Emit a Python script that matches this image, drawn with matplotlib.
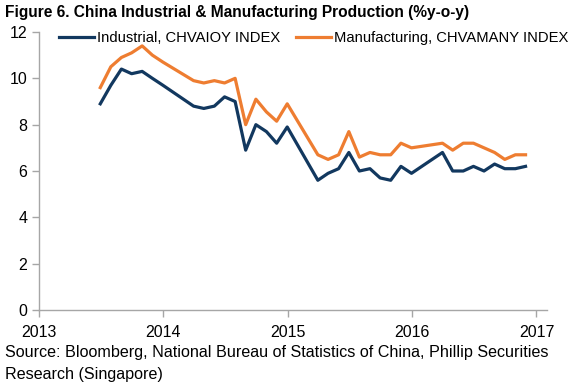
import matplotlib.pyplot as plt
import matplotlib.dates as mdates
import pandas as pd

# month-end dates, Jan/Feb not published separately
months = [
    "2013-06", "2013-07", "2013-08", "2013-09", "2013-10", "2013-11", "2013-12",
    "2014-03", "2014-04", "2014-05", "2014-06", "2014-07", "2014-08", "2014-09",
    "2014-10", "2014-11", "2014-12",
    "2015-03", "2015-04", "2015-05", "2015-06", "2015-07", "2015-08", "2015-09",
    "2015-10", "2015-11", "2015-12",
    "2016-03", "2016-04", "2016-05", "2016-06", "2016-07", "2016-08", "2016-09",
    "2016-10", "2016-11",
]
industrial = [
    8.9, 9.7, 10.4, 10.2, 10.3, 10.0, 9.7,
    8.8, 8.7, 8.8, 9.2, 9.0, 6.9, 8.0, 7.7, 7.2, 7.9,
    5.6, 5.9, 6.1, 6.8, 6.0, 6.1, 5.7, 5.6, 6.2, 5.9,
    6.8, 6.0, 6.0, 6.2, 6.0, 6.3, 6.1, 6.1, 6.2,
]
manufacturing = [
    9.6, 10.5, 10.9, 11.1, 11.4, 11.0, 10.7,
    9.9, 9.8, 9.9, 9.8, 10.0, 8.0, 9.1, 8.55, 8.15, 8.9,
    6.7, 6.5, 6.7, 7.7, 6.6, 6.8, 6.7, 6.7, 7.2, 7.0,
    7.2, 6.9, 7.2, 7.2, 7.0, 6.8, 6.5, 6.7, 6.7,
]
year_ticks = ["2013", "2014", "2015", "2016", "2017"]

dates = pd.to_datetime(months) + pd.offsets.MonthEnd(0)
df = pd.DataFrame({"industrial": industrial, "manufacturing": manufacturing}, index=dates)

plt.rcParams["font.family"] = ["Liberation Sans", "DejaVu Sans"]

fig = plt.figure(figsize=(5.69, 3.89), dpi=100)
ax = fig.add_axes([39 / 569, 79 / 389, 508 / 569, 278 / 389])

ax.plot(df.index, df["industrial"], color="#12385f", lw=2.3,
        label="Industrial, CHVAIOY INDEX")
ax.plot(df.index, df["manufacturing"], color="#ee7d31", lw=2.3,
        label="Manufacturing, CHVAMANY INDEX")

ax.set_ylim(0, 12)
ax.set_yticks(range(0, 13, 2))
ax.set_xlim(pd.Timestamp("2013-01-01"), pd.Timestamp("2017-02-01"))
ax.set_xticks([pd.Timestamp(y + "-01-01") for y in year_ticks])
ax.xaxis.set_major_formatter(mdates.DateFormatter("%Y"))

for side in ["top", "right"]:
    ax.spines[side].set_visible(False)
for side in ["left", "bottom"]:
    ax.spines[side].set_color("#a6a6a6")
    ax.spines[side].set_linewidth(1.0)
ax.tick_params(axis="both", colors="#a6a6a6", length=5, width=1.0,
               labelcolor="black", labelsize=11.5)
ax.tick_params(axis="x", pad=6)

ax.legend(loc="center left", bbox_to_anchor=(59 / 569, 1 - 38 / 389),
          bbox_transform=fig.transFigure, ncol=2, frameon=False,
          fontsize=10.6, handlelength=2.4, handletextpad=0.15, columnspacing=1.1,
          borderaxespad=0, borderpad=0)

fig.text(5 / 569, 1 - 12 / 389, "Figure 6. China Industrial & Manufacturing Production (%y-o-y)",
         fontsize=11.2, fontweight="bold", va="center", ha="left")
fig.text(5 / 569, 1 - 353 / 389,
         "Source: Bloomberg, National Bureau of Statistics of China, Phillip Securities",
         fontsize=11.6, va="center", ha="left")
fig.text(5 / 569, 1 - 374 / 389, "Research (Singapore)",
         fontsize=11.6, va="center", ha="left")

fig.savefig("out.png", dpi=100)
